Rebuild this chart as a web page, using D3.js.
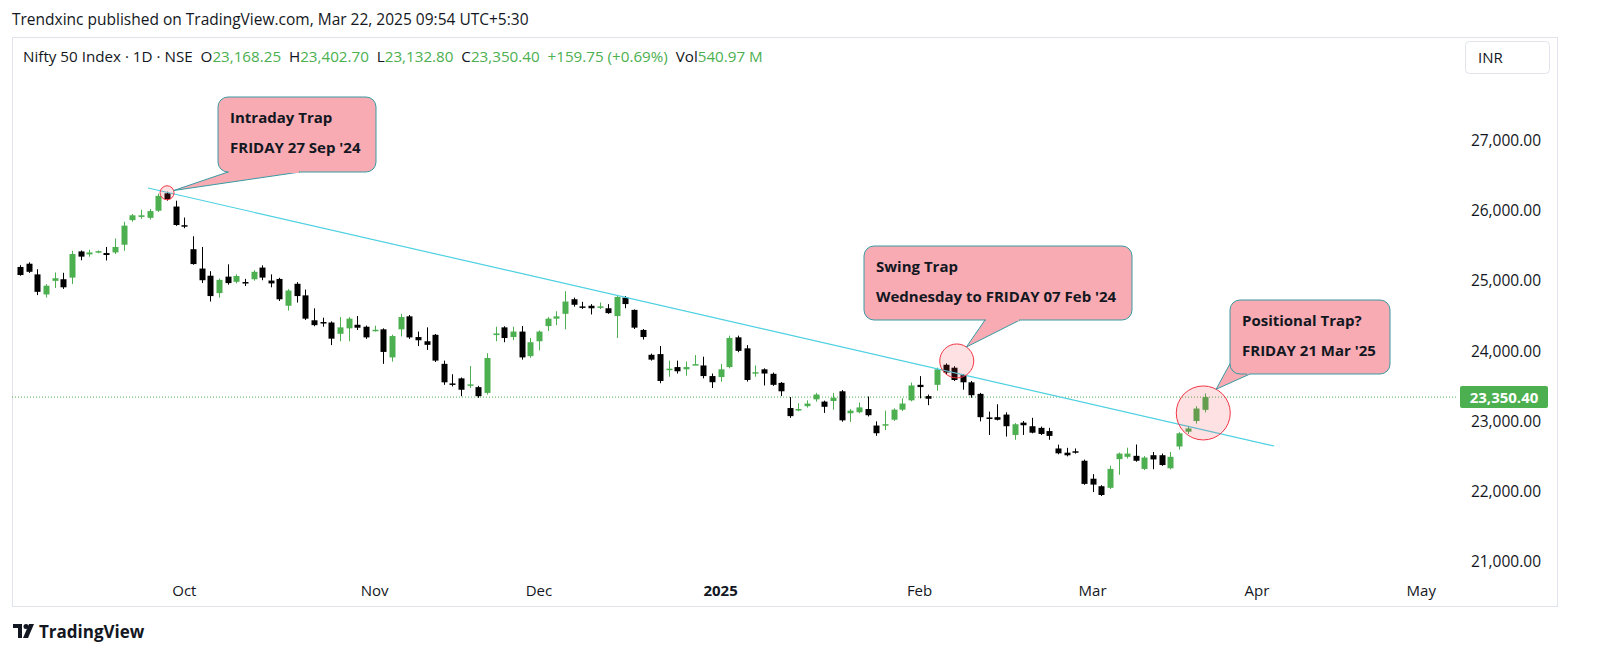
<!DOCTYPE html>
<html>
<head>
<meta charset="utf-8">
<script src="https://cdn.jsdelivr.net/npm/d3@7"></script>
<style>
  body { margin: 0; background: #fff; }
  svg { display: block; font-family: "Open Sans", "DejaVu Sans", sans-serif; }
  text, tspan { white-space: pre; }
</style>
</head>
<body>
<svg id="chart" width="1600" height="667"></svg>
<script>
// daily candles, Sep 4 2024 .. Mar 21 2025 (trading-day index 1..138)
const opens = [25205,25251,25099,24813,25007,25030,25053,25426,25384,25421,25403,25412,25522,25872,25918,25905,26006,26254,26066,25800,
  25458,25182,25080,24832,25067,24993,24990,25030,25196,25011,25034,24652,24965,24800,24445,24420,24413,24252,24330,24381,
  24353,24300,24316,23916,24316,24501,24206,24146,24238,23824,23545,23617,23520,23492,23410,24234,24344,24206,24284,23934,
  24146,24362,24468,24537,24745,24643,24652,24625,24616,24505,24768,24593,24307,23953,23963,23750,23778,23746,23815,23801,
  23650,23636,23778,24202,24045,23700,23746,23682,23553,23194,23178,23221,23318,23286,23295,23433,23120,23134,23180,22945,
  22960,23028,23171,23304,23525,23364,23525,23811,23769,23663,23561,23396,23060,23064,23101,22811,22986,22935,22912,22866,
  22618,22558,22578,22443,22187,22080,22057,22466,22499,22513,22327,22522,22522,22336,22646,22857,23010,23168.25];
const highs = [25230,25270,25173,24960,25127,25122,25435,25440,25450,25440,25490,25610,25849,25960,26020,26030,26250,26277,26149,25909,
  25642,25490,25145,25040,25242,25100,25035,25160,25228,25099,25050,24890,24988,24883,24615,24482,24430,24491,24491,24505,
  24370,24367,24330,24240,24537,24520,24284,24344,24250,23870,23676,23630,23792,23510,23976,24353,24360,24353,24362,24192,
  24300,24491,24574,24860,24768,24708,24675,24698,24675,24791,24791,24600,24320,23970,24078,23870,23870,23857,23949,23926,
  23686,23824,24226,24226,24091,23801,23760,23700,23565,23350,23263,23304,23410,23300,23410,23450,23180,23272,23359,23005,
  23157,23190,23332,23557,23649,23387,23770,23830,23790,23680,23580,23410,23143,23248,23133,22980,23009,23055,22930,22912,
  22673,22627,22618,22460,22252,22095,22373,22560,22629,22675,22510,22568,22545,22568,22850,22941,23220,23402.7];
const lows = [25080,25120,24804,24770,24905,24892,24961,25300,25350,25400,25297,25390,25435,25850,25890,25880,25990,26150,25790,25757,
  25237,24975,24712,24767,24952,24970,24933,25010,25016,24915,24720,24583,24698,24450,24360,24353,24091,24146,24146,24307,
  24180,24284,23824,23856,24215,24180,24077,24022,23850,23525,23502,23363,23478,23340,23386,24146,24132,24160,23884,23910,
  24017,24293,24376,24316,24639,24606,24528,24606,24537,24192,24616,24320,24170,23870,23548,23640,23686,23654,23811,23617,
  23479,23571,23760,23990,23571,23640,23516,23510,23364,23055,23148,23200,23286,23125,23171,23000,22996,23120,23074,22798,
  22880,23010,23150,23290,23332,23235,23442,23680,23580,23456,23340,23004,22811,23018,22788,22742,22811,22834,22810,22742,
  22535,22505,22544,22100,21996,21940,22040,22243,22475,22429,22310,22322,22370,22320,22601,22824,22973,23132.8];
const closes = [25090,25136,24850,24938,25044,24915,25389,25352,25412,25430,25375,25490,25794,25941,25941,26001,26218,26172,25803,25790,
  25246,25016,24790,25021,24975,25076,24980,25136,25053,24970,24744,24869,24790,24468,24376,24410,24183,24344,24468,24339,
  24201,24310,23994,24220,24491,24201,24160,24095,23870,23561,23538,23455,23532,23363,23907,24257,24192,24284,23916,24132,
  24284,24468,24501,24712,24666,24636,24616,24643,24547,24777,24676,24340,24206,23884,23580,23755,23718,23778,23820,23650,
  23562,23746,24193,24009,23594,23705,23686,23525,23433,23079,23180,23258,23387,23212,23341,23019,23157,23203,23092,22835,
  22964,23171,23258,23516,23493,23327,23746,23700,23594,23561,23377,23064,23055,23027,22935,22963,22949,22843,22825,22797,
  22549,22521,22572,22113,22103,21955,22327,22545,22545,22443,22489,22462,22382,22499,22834,22903,23187,23350.4];

const monthLabels = ["Oct", "Nov", "Dec", "2025", "Feb", "Mar", "Apr", "May"];
const monthIndex = [20, 42, 61, 82, 105, 125, 144, 163];
const priceTicks = [21000, 22000, 23000, 24000, 25000, 26000, 27000];

// trend line anchors (trading-day index, price)
const trendIdx = [15.8, 146];
const trendPrice = [26330, 22653];

// callouts: circle anchor (index, price, radius) + box text
const calloutIdx = [18, 109.3, 137.8];
const calloutPrice = [26262, 23865, 23124];
const calloutR = [7, 17, 27];
const calloutTitle = ["Intraday Trap", "Swing Trap", "Positional Trap?"];
const calloutDate = ["FRIDAY 27 Sep '24", "Wednesday to FRIDAY 07 Feb '24", "FRIDAY 21 Mar '25"];

const lastPrice = 23350.40;

const GREEN = "#4caf50", BLACK = "#000000", CYAN = "#4dd0e1";

const candles = opens.map((o, i) => ({ i: i + 1, o, h: highs[i], l: lows[i], c: closes[i] }));

const svg = d3.select("#chart");

const x = d3.scaleLinear().domain([1, 138]).range([20, 1205]);
const y = d3.scaleLinear().domain([21000, 27000]).range([562, 141]);

// header
svg.append("text").attr("x", 12).attr("y", 25).attr("font-size", 15.5).attr("fill", "#131722")
  .text("Trendxinc published on TradingView.com, Mar 22, 2025 09:54 UTC+5:30");

// frame
svg.append("rect").attr("x", 12.5).attr("y", 37.5).attr("width", 1545).attr("height", 569)
  .attr("fill", "none").attr("stroke", "#e0e3eb");

// legend line
const legend = svg.append("text").attr("x", 23).attr("y", 62).attr("font-size", 15.2);
[["Nifty 50 Index · 1D · NSE  ", "#131722"], ["O", "#131722"], ["23,168.25  ", GREEN],
 ["H", "#131722"], ["23,402.70  ", GREEN], ["L", "#131722"], ["23,132.80  ", GREEN],
 ["C", "#131722"], ["23,350.40  +159.75 (+0.69%)  ", GREEN], ["Vol", "#131722"], ["540.97 M", GREEN]]
  .forEach(([t, col]) => legend.append("tspan").attr("fill", col).text(t));

// INR box
svg.append("rect").attr("x", 1465.5).attr("y", 41.5).attr("width", 84).attr("height", 32).attr("rx", 4)
  .attr("fill", "#fff").attr("stroke", "#e0e3eb");
svg.append("text").attr("x", 1478).attr("y", 63).attr("font-size", 15).attr("fill", "#131722").text("INR");

// price axis
svg.append("g").selectAll("text").data(priceTicks).join("text")
  .attr("x", 1541).attr("y", d => y(d) + 5).attr("text-anchor", "end")
  .attr("font-size", 15.5).attr("fill", "#131722")
  .text(d => d3.format(",.2f")(d));

// time axis
svg.append("g").selectAll("text").data(monthLabels).join("text")
  .attr("x", (d, k) => x(monthIndex[k])).attr("y", 596).attr("text-anchor", "middle")
  .attr("font-size", 15).attr("fill", "#131722")
  .attr("font-weight", d => d === "2025" ? "bold" : "normal")
  .text(d => d);

// last price dotted line
svg.append("line").attr("x1", 12).attr("x2", 1458).attr("y1", y(lastPrice)).attr("y2", y(lastPrice))
  .attr("stroke", GREEN).attr("stroke-dasharray", "1,2").attr("stroke-width", 1);
svg.append("rect").attr("x", 1460).attr("y", y(lastPrice) - 11).attr("width", 88).attr("height", 22).attr("rx", 2)
  .attr("fill", GREEN);
svg.append("text").attr("x", 1504).attr("y", y(lastPrice) + 5.5).attr("text-anchor", "middle")
  .attr("font-size", 15).attr("font-weight", "bold").attr("fill", "#fff").text("23,350.40");

// candles
const bw = 6;
const cg = svg.append("g");
cg.selectAll("line").data(candles).join("line")
  .attr("x1", d => Math.round(x(d.i)) + 0.5).attr("x2", d => Math.round(x(d.i)) + 0.5)
  .attr("y1", d => y(d.h)).attr("y2", d => y(d.l))
  .attr("stroke", d => d.c >= d.o ? GREEN : BLACK).attr("stroke-width", 1);
cg.selectAll("rect").data(candles).join("rect")
  .attr("x", d => Math.round(x(d.i)) + 0.5 - bw / 2).attr("width", bw)
  .attr("y", d => y(Math.max(d.o, d.c)))
  .attr("height", d => Math.max(1.5, Math.abs(y(d.o) - y(d.c))))
  .attr("fill", d => d.c >= d.o ? GREEN : BLACK);

// trend line
svg.append("line")
  .attr("x1", x(trendIdx[0])).attr("y1", y(trendPrice[0]))
  .attr("x2", x(trendIdx[1])).attr("y2", y(trendPrice[1]))
  .attr("stroke", CYAN).attr("stroke-width", 1.2);

// callouts
const boxes = [
  { x: 218, y: 97, w: 158, h: 75, tail: [[228, 172], [300, 172]] },
  { x: 864, y: 246, w: 268, h: 74, tail: [[985, 320], [1020, 320]] },
  { x: 1230, y: 300, w: 160, h: 74, tail: [[1232, 360], [1250, 374]] }
];
boxes.forEach((b, k) => {
  const cx = x(calloutIdx[k]), cy = y(calloutPrice[k]), r = calloutR[k];
  const g = svg.append("g");
  g.append("circle").attr("cx", cx).attr("cy", cy).attr("r", r)
    .attr("fill", "rgba(242,54,69,0.15)").attr("stroke", "#f23645").attr("stroke-width", 1);
  const ang = Math.atan2(b.tail[0][1] - cy, b.tail[0][0] - cx);
  const tip = [cx + Math.cos(ang) * r, cy + Math.sin(ang) * r];
  g.append("path")
    .attr("d", `M${b.tail[0][0]},${b.tail[0][1]}L${tip[0]},${tip[1]}L${b.tail[1][0]},${b.tail[1][1]}`)
    .attr("fill", "#f8abb2").attr("stroke", "#3a9aa2").attr("stroke-width", 1);
  g.append("rect").attr("x", b.x).attr("y", b.y).attr("width", b.w).attr("height", b.h).attr("rx", 10)
    .attr("fill", "#f8abb2").attr("stroke", "#3a9aa2").attr("stroke-width", 1);
  g.append("line").attr("x1", b.tail[0][0] + 1).attr("x2", b.tail[1][0] - 1)
    .attr("y1", b.tail[0][1]).attr("y2", b.tail[1][1])
    .attr("stroke", "#f8abb2").attr("stroke-width", 2);
  g.append("text").attr("x", b.x + 12).attr("y", b.y + 26).attr("font-size", 15).attr("font-weight", "bold")
    .attr("fill", "#131722").text(calloutTitle[k]);
  g.append("text").attr("x", b.x + 12).attr("y", b.y + 56).attr("font-size", 15).attr("font-weight", "bold")
    .attr("fill", "#131722").text(calloutDate[k]);
});

// footer logo
const logo = svg.append("g").attr("transform", "translate(13,624)");
logo.append("path").attr("d", "M0,0H9V14H5V4H0Z").attr("fill", "#131722");
logo.append("circle").attr("cx", 13).attr("cy", 2.5).attr("r", 2.5).attr("fill", "#131722");
logo.append("path").attr("d", "M16,0H21L15,14H10Z").attr("fill", "#131722");
svg.append("text").attr("x", 39).attr("y", 638).attr("font-size", 17).attr("font-weight", "bold")
  .attr("fill", "#131722").text("TradingView");
</script>
</body>
</html>
